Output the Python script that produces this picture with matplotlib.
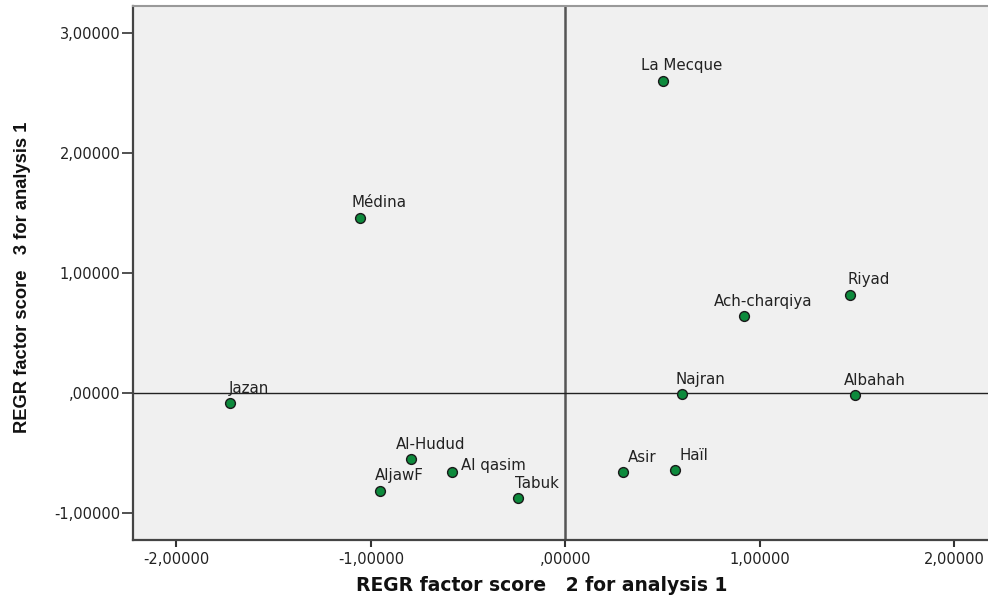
import matplotlib
matplotlib.use("Agg")
import matplotlib.pyplot as plt
from matplotlib.ticker import FixedLocator

names = ["La Mecque", "Médina", "Riyad", "Ach-charqiya", "Jazan", "Najran",
         "Albahah", "Al-Hudud", "Al qasim", "AljawF", "Tabuk", "Asir", "Haïl"]
score2 = [0.501, -1.056, 1.462, 0.920, -1.725, 0.598,
          1.491, -0.793, -0.584, -0.951, -0.242, 0.295, 0.564]
score3 = [2.605, 1.463, 0.822, 0.644, -0.083, -0.008,
          -0.014, -0.548, -0.656, -0.811, -0.872, -0.656, -0.642]
xticks = [-2, -1, 0, 1, 2]
yticks = [-1, 0, 1, 2, 3]
xlabels = ["-2,00000", "-1,00000", ",00000", "1,00000", "2,00000"]
ylabels = ["-1,00000", ",00000", "1,00000", "2,00000", "3,00000"]

W, H = 988, 598
fig = plt.figure(figsize=(W / 100, H / 100), dpi=100)
fig.patch.set_facecolor("white")
ax = fig.add_axes([133 / W, (H - 540) / H, 1 - 133 / W, (540 - 6) / H])
ax.set_facecolor("#f0f0f0")
ax.set_xlim(-2.223, 2.173)
ax.set_ylim(-1.222, 3.228)

ax.axvline(0, color="#555555", lw=1.8, zorder=1)
ax.axhline(0, color="#222222", lw=1.0, zorder=1)

ax.scatter(score2, score3, s=50, color="#0d8a3c", edgecolor="#1a1a1a",
           linewidth=1.0, zorder=3)

for n, x, y in zip(names, score2, score3):
    if n == "Al qasim":
        ax.annotate(n, (x, y), xytext=(9, 7), textcoords="offset pixels",
                    ha="left", va="center", fontsize=10.8, color="#222222",
                    family="DejaVu Sans")
    else:
        ax.annotate(n, (x, y), xytext=(19, 15), textcoords="offset pixels",
                    ha="center", va="center", fontsize=10.8, color="#222222",
                    family="DejaVu Sans")

ax.xaxis.set_major_locator(FixedLocator(xticks))
ax.yaxis.set_major_locator(FixedLocator(yticks))
ax.set_xticklabels(xlabels)
ax.set_yticklabels(ylabels)
ax.tick_params(axis="x", length=5, width=1.5, color="#333333", pad=4,
               labelsize=10.5, labelcolor="#222222")
ax.tick_params(axis="y", length=8, width=1.2, color="#333333", pad=1,
               labelsize=10.5, labelcolor="#222222")
for lab in ax.get_xticklabels() + ax.get_yticklabels():
    lab.set_family("DejaVu Sans")

ax.spines["right"].set_visible(False)
ax.spines["top"].set_color("#999999")
ax.spines["top"].set_linewidth(1.5)
ax.spines["left"].set_color("#444444")
ax.spines["left"].set_linewidth(1.6)
ax.spines["bottom"].set_color("#444444")
ax.spines["bottom"].set_linewidth(1.6)

fig.text(541.5 / W, 1 - 585.5 / H, "REGR factor score   2 for analysis 1",
         ha="center", va="center", fontsize=13.5, fontweight="bold",
         color="#111111", family="DejaVu Sans")
fig.text(23 / W, 1 - 277.5 / H, "REGR factor score   3 for analysis 1",
         ha="center", va="center", rotation=90, fontsize=13.2,
         fontweight="bold", color="#111111", family="Liberation Sans")

fig.savefig("out.png", dpi=100)
